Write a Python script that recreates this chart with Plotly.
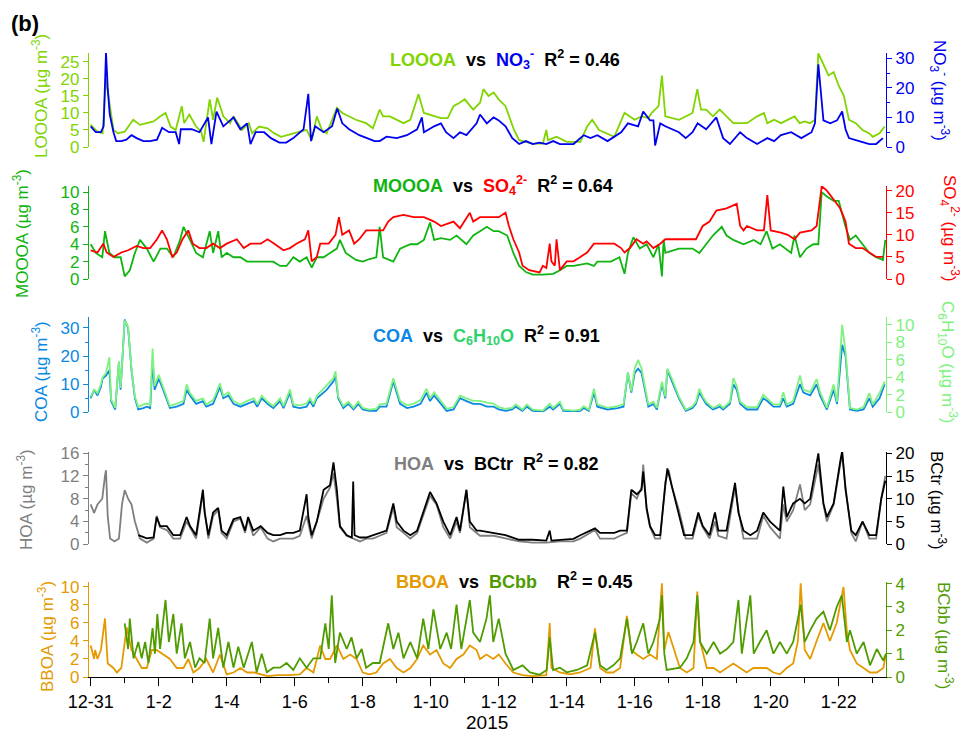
import pandas as pd
import plotly.graph_objects as go

# ---------------- data: (day offset from 2014-12-31 00:00, value) ----------------
START = pd.Timestamp("2014-12-31 00:00")

LOOOA = [(0,6.5),(0.2,4.5),(0.35,4),(0.45,20),(0.55,13),(0.67,5),(0.8,4),(1.0,4.5),(1.25,8),(1.45,6.5),(1.65,7),(1.85,7.5),
         (2.05,9),(2.2,10),(2.35,6),(2.5,5),(2.68,12),(2.75,7),(2.9,9.5),(3.1,6),(3.25,4.5),(3.32,1.5),(3.5,14),(3.6,8),
         (3.72,14.5),(3.9,9),(4.1,7),(4.2,9),(4.45,5),(4.65,7),(4.75,4),(4.95,6),(5.2,5.5),(5.4,4),(5.6,3),(5.76,3.5),
         (5.95,4),(6.15,4.5),(6.35,5),(6.5,2),(6.65,9),(6.8,5),(6.94,4),(7.1,8),(7.24,11.5),(7.4,10),(7.6,9),(7.8,8),
         (8.1,7),(8.3,5.5),(8.5,11),(8.6,9),(8.8,9),(9.0,8),(9.2,7),(9.4,8),(9.64,15.5),(9.8,10),(10.1,9),(10.3,8.5),
         (10.5,8.5),(10.67,12),(10.85,13),(11.0,14),(11.25,11),(11.45,13),(11.55,17),(11.7,15),(11.85,16),(12.0,14),
         (12.2,12),(12.45,5),(12.6,2),(12.8,1.5),(13.0,1),(13.3,1),(13.4,5),(13.45,2),(13.7,3),(14.0,1.5),(14.4,1.5),
         (14.6,6),(14.75,8),(14.95,5),(15.2,4),(15.4,3),(15.57,7),(15.7,10),(16.0,8),(16.2,9),(16.4,8.5),(16.5,10),
         (16.7,12),(16.8,21),(16.9,9),(17.3,8),(17.7,10),(17.84,17),(17.95,11),(18.1,11),(18.3,9),(18.5,11),(18.7,9),
         (18.9,7),(19.1,7),(19.3,7),(19.6,9),(19.8,10),(19.9,7),(20.1,8),(20.3,7),(20.5,8),(20.7,9),(20.85,7),(21.0,7.5),
         (21.15,7),(21.3,8),(21.4,27.5),(21.55,24),(21.7,21),(21.85,22),(22.0,18),(22.15,15),(22.3,8),(22.5,7),(22.7,5),
         (22.9,4),(23.0,3),(23.2,4),(23.35,6)]

NO3 = [(0,7),(0.15,5),(0.3,5),(0.38,7),(0.45,32),(0.5,20),(0.56,11),(0.67,5),(0.75,2),(0.9,2),(1.05,2.5),(1.2,4),
       (1.35,3),(1.55,2),(1.75,2),(1.95,2.5),(2.1,6.5),(2.3,5),(2.5,5),(2.6,1),(2.65,6),(2.97,6),(3.2,5),(3.45,10),
       (3.55,1),(3.7,12),(3.9,7),(4.2,10),(4.4,6),(4.6,8),(4.7,1),(4.85,5),(5.1,5),(5.3,3),(5.55,1.5),(5.75,1.5),
       (5.96,3),(6.26,6),(6.4,18),(6.48,2),(6.6,7),(6.85,5),(7.1,7),(7.25,13),(7.4,8),(7.6,6),(7.9,4),(8.1,3),(8.35,2),
       (8.5,2),(8.7,3.5),(9.0,3),(9.3,4),(9.6,6),(9.74,10),(9.8,5),(10.1,7),(10.3,8),(10.45,5),(10.67,3),(10.86,5),
       (11.05,4),(11.35,8),(11.45,11),(11.65,8),(11.85,10),(12.0,9),(12.2,7),(12.4,3),(12.6,1),(12.8,2),(13.0,1),
       (13.2,1.5),(13.4,1),(13.6,2),(13.8,1),(14.2,1),(14.5,4),(14.7,3),(14.9,4),(15.2,2),(15.6,5),(15.8,8),(16.1,7),
       (16.25,12),(16.45,9),(16.55,9),(16.6,0.5),(16.75,8),(16.9,7),(17.3,5),(17.5,3),(17.7,5),(17.85,8),(18.1,6),
       (18.4,10),(18.6,3),(18.8,1),(19.1,5),(19.3,3),(19.6,1),(19.9,3),(20.1,2),(20.3,4),(20.6,5),(20.9,3),(21.2,5),
       (21.3,8),(21.4,28),(21.55,9),(21.75,8),(21.95,9),(22.1,12),(22.2,6),(22.3,3),(22.6,2),(22.9,1),(23.1,1),(23.3,3)]

MOOOA = [(0,4),(0.15,3),(0.34,2.5),(0.42,5.5),(0.55,3),(0.7,2.5),(0.88,2.5),(1.0,0.3),(1.15,1),(1.3,3),(1.45,4.5),
         (1.65,3.5),(1.85,2),(2.05,3.5),(2.24,3.5),(2.43,2.5),(2.63,4.5),(2.73,6),(2.92,4.5),(3.1,3),(3.3,2.5),(3.5,5.5),
         (3.6,3),(3.75,5.5),(3.85,2.5),(4.0,3),(4.2,2.5),(4.4,2.5),(4.6,2),(4.8,2),(5.0,2),(5.2,2),(5.37,2),(5.57,1.5),
         (5.76,1.5),(5.96,2.5),(6.15,2),(6.35,2.5),(6.5,1.3),(6.65,2.5),(6.85,2.5),(7.04,3),(7.24,3.5),(7.33,4.5),(7.5,3),
         (7.8,2.2),(8.0,2),(8.2,2.3),(8.4,2.5),(8.5,6),(8.6,2.5),(8.9,2),(9.1,3.5),(9.4,4),(9.6,4),(9.8,4.5),(9.98,6.5),
         (10.1,4.5),(10.3,4.7),(10.57,4.5),(10.76,5),(11.05,4),(11.25,5),(11.45,5.5),(11.65,6),(11.85,5.5),(12.0,5.5),
         (12.25,5),(12.43,3),(12.6,1.5),(12.8,0.8),(13.0,0.5),(13.3,0.5),(13.6,0.6),(13.8,1),(14.0,1.5),(14.2,1.5),
         (14.6,1.8),(14.8,1.5),(14.9,2),(15.3,2),(15.55,2.5),(15.7,0.6),(15.8,3),(15.96,4.8),(16.15,3.5),(16.35,4),
         (16.55,2.5),(16.7,4),(16.8,0.3),(16.85,4.5),(16.9,3),(17.3,3.5),(17.7,3.5),(17.9,3),(18.1,4),(18.3,5),(18.56,6),
         (18.7,5),(18.9,4.5),(19.2,4),(19.5,4.5),(19.7,4),(19.88,5.5),(20.05,3.5),(20.27,4),(20.6,3),(20.7,5),(20.86,2.5),
         (21.05,3.5),(21.25,4),(21.4,4),(21.5,10),(21.65,9.5),(21.85,9),(22.0,9),(22.2,6),(22.33,4.5),(22.5,5),(22.7,4),
         (22.9,3),(23.1,2.5),(23.3,2.2),(23.37,4.5)]

SO4 = [(0,6.5),(0.2,6),(0.37,8),(0.47,6),(0.67,5),(0.9,6),(1.1,6.5),(1.35,7.5),(1.55,7),(1.75,7),(1.95,9),(2.1,11),
       (2.24,9),(2.4,5),(2.53,6),(2.7,9),(2.87,11),(3.0,8),(3.2,7),(3.4,7),(3.6,8),(3.8,7),(4.0,8),(4.3,9),(4.5,7),
       (4.7,8),(5.0,8),(5.2,9),(5.4,8),(5.67,6.5),(5.86,7),(6.05,8),(6.3,9),(6.4,11),(6.5,4),(6.65,5),(6.75,8),(7.0,8),
       (7.2,10),(7.3,14),(7.4,10),(7.6,11),(7.75,8),(7.9,9),(8.1,11),(8.4,11),(8.6,11),(8.75,13),(8.9,14),(9.2,14.5),
       (9.5,14),(9.8,14),(10.1,13),(10.3,12),(10.47,12.5),(10.67,13),(10.86,11.5),(11.15,15),(11.25,13),(11.45,14),
       (11.65,14),(11.85,14),(12.0,14),(12.2,15),(12.3,12),(12.43,9),(12.6,6),(12.7,3),(12.9,2),(13.2,1.5),(13.3,3),
       (13.4,2.5),(13.5,8),(13.55,4),(13.65,3),(13.7,9),(13.8,2),(14.0,4),(14.2,4),(14.4,5),(14.6,6),(14.8,8),(14.98,8),
       (15.2,8),(15.4,8),(15.6,7),(15.7,6),(15.86,7),(16.05,9),(16.25,8),(16.35,8.5),(16.55,7),(16.75,8),(16.9,9),
       (17.3,9),(17.5,9),(17.8,9),(18.0,12),(18.2,13),(18.4,15.5),(18.7,16),(19.0,17),(19.1,12),(19.2,11),(19.3,12),
       (19.6,11),(19.8,11),(19.9,19),(20.0,11),(20.3,10.5),(20.5,10),(20.7,9),(20.86,10.5),(21.2,11),(21.35,12),
       (21.5,21),(21.65,20),(21.85,18),(22.04,16),(22.2,13),(22.3,8),(22.5,7),(22.7,7),(22.9,6),(23.1,5),(23.3,5)]

COA = [(0,5),(0.1,8),(0.2,6),(0.3,9),(0.35,12),(0.45,13),(0.55,15),(0.6,4),(0.72,1),(0.83,18),(0.88,8),(1.0,33),
       (1.1,30),(1.2,15),(1.3,5),(1.4,1),(1.55,1.5),(1.65,2),(1.75,1.5),(1.82,18),(1.88,8),(2.0,12),(2.1,9),(2.24,4),
       (2.33,1.5),(2.53,2),(2.73,3),(2.82,8),(2.92,6),(3.1,3),(3.3,4),(3.4,2),(3.6,3),(3.7,6),(3.8,9),(3.9,5),(4.05,6),
       (4.2,3),(4.4,2),(4.6,3),(4.8,4),(4.9,2),(5.03,5),(5.2,3),(5.37,1.5),(5.57,4),(5.67,1.5),(5.86,7),(5.96,2),
       (6.15,1.5),(6.35,2),(6.45,4),(6.55,2),(6.65,5),(6.75,6),(6.94,8),(7.14,11),(7.2,13),(7.28,5),(7.43,1.5),
       (7.58,3),(7.73,1),(7.87,3),(8.0,1),(8.2,0.5),(8.4,0.5),(8.5,2),(8.7,2),(8.9,11),(9.0,7),(9.1,3),(9.3,1.5),
       (9.5,2),(9.7,3),(9.88,7),(9.98,4),(10.1,6),(10.3,3),(10.47,0.5),(10.67,1),(10.86,5),(11.05,4),(11.25,3),
       (11.45,3),(11.65,2),(11.85,2),(12.0,1),(12.2,0.5),(12.4,1),(12.5,2),(12.7,0.5),(12.83,2),(13.0,0.5),(13.3,0.3),
       (13.5,2),(13.6,1),(13.8,3),(13.9,0.5),(14.2,0.3),(14.4,0.5),(14.5,1.5),(14.65,0.5),(14.8,7),(14.9,2),(15.2,1),
       (15.5,1.5),(15.67,2),(15.8,14),(15.9,7),(16.0,14),(16.1,15.5),(16.2,14),(16.3,8),(16.4,2),(16.55,3),(16.65,1),
       (16.8,10),(16.9,5),(16.96,15),(17.1,11),(17.3,5),(17.5,0.5),(17.7,1.5),(17.8,3),(17.9,7),(18.0,5),(18.1,3),
       (18.3,1),(18.5,2),(18.6,1),(18.8,3),(18.9,10),(19.0,8),(19.1,3),(19.3,1),(19.6,1),(19.78,5),(19.9,4),(20.08,2),
       (20.27,2),(20.37,5),(20.47,2),(20.66,3),(20.86,10),(20.96,7),(21.16,6),(21.35,10),(21.45,6),(21.65,1),(21.85,8),
       (21.95,3),(22.1,24),(22.2,20),(22.33,1),(22.53,0.5),(22.73,1),(22.9,5),(23.0,2),(23.2,5),(23.35,10)]

C6H10O = [(0,1.8),(0.1,2.6),(0.2,2.2),(0.3,3.2),(0.35,4),(0.45,4.5),(0.55,6.3),(0.6,1.5),(0.72,0.5),(0.83,5.8),
          (0.88,2.8),(1.0,10.5),(1.1,9.8),(1.2,5),(1.3,1.8),(1.4,0.6),(1.55,0.9),(1.65,1),(1.75,0.8),(1.82,7.3),(1.88,3),
          (2.0,4.3),(2.1,3.2),(2.24,1.6),(2.33,0.7),(2.53,1),(2.73,1.3),(2.82,3.2),(2.92,2.2),(3.1,1.3),(3.3,1.6),(3.4,0.9),
          (3.6,1.4),(3.7,2.3),(3.8,3.3),(3.9,1.9),(4.05,2.3),(4.2,1.3),(4.4,0.9),(4.6,1.3),(4.8,1.6),(4.9,0.9),(5.03,1.9),
          (5.2,1.2),(5.37,0.7),(5.57,1.6),(5.67,0.7),(5.86,2.6),(5.96,0.9),(6.15,0.8),(6.35,1),(6.45,1.6),(6.55,0.9),
          (6.65,1.9),(6.75,2.3),(6.94,3),(7.14,3.9),(7.2,4.7),(7.28,1.8),(7.43,0.7),(7.58,1.2),(7.73,0.5),(7.87,1.2),
          (8.0,0.5),(8.2,0.3),(8.4,0.4),(8.5,0.9),(8.7,1),(8.9,3.9),(9.0,2.6),(9.1,1.3),(9.3,0.8),(9.5,1),(9.7,1.4),
          (9.88,2.7),(9.98,1.6),(10.1,2.3),(10.3,1.3),(10.47,0.4),(10.67,0.6),(10.86,1.9),(11.05,1.6),(11.25,1.3),
          (11.45,1.3),(11.65,1.1),(11.85,1),(12.0,0.6),(12.2,0.4),(12.4,0.5),(12.5,0.9),(12.7,0.3),(12.83,0.9),(13.0,0.3),
          (13.3,0.2),(13.5,1),(13.6,0.5),(13.8,1.2),(13.9,0.3),(14.2,0.2),(14.4,0.3),(14.5,0.7),(14.65,0.3),(14.8,2.7),
          (14.9,0.9),(15.2,0.5),(15.5,0.7),(15.67,0.9),(15.8,4.6),(15.9,2.4),(16.0,5),(16.1,6),(16.2,5),(16.3,2.8),
          (16.4,0.9),(16.55,1.2),(16.65,0.5),(16.8,3.5),(16.9,1.8),(16.96,5),(17.1,3.8),(17.3,1.8),(17.5,0.3),(17.7,0.7),
          (17.8,1.2),(17.9,2.7),(18.0,1.8),(18.1,1.2),(18.3,0.5),(18.5,0.9),(18.6,0.5),(18.8,1.2),(18.9,3.9),(19.0,3),
          (19.1,1.2),(19.3,0.6),(19.6,0.6),(19.78,2),(19.9,1.6),(20.08,0.9),(20.27,0.9),(20.37,2.3),(20.47,0.9),
          (20.66,1.3),(20.86,4.2),(20.96,2.6),(21.16,2.3),(21.35,3.8),(21.45,2.3),(21.65,0.5),(21.85,3.2),(21.95,1.2),
          (22.1,10),(22.2,7),(22.33,0.5),(22.53,0.3),(22.73,0.6),(22.9,2.2),(23.0,0.9),(23.2,2.2),(23.35,3.5)]

HOA = [(0,7),(0.1,5.5),(0.2,7),(0.34,8),(0.42,12),(0.45,13),(0.5,5),(0.57,1),(0.7,0.5),(0.83,1),(0.92,7),(1.0,9.5),
       (1.1,8),(1.2,7),(1.3,4),(1.45,1),(1.65,0.3),(1.85,1),(1.94,5),(2.04,3),(2.24,2.5),(2.43,1),(2.63,1),(2.82,4),
       (2.92,3),(3.1,1),(3.3,9),(3.35,6),(3.46,1),(3.6,5),(3.75,6),(3.85,2),(4.0,1),(4.2,4),(4.4,4.5),(4.54,2),
       (4.63,4.5),(4.78,1.5),(5.0,3),(5.2,1),(5.37,0.5),(5.57,1),(5.76,1),(5.96,1),(6.15,1.5),(6.35,5),(6.5,1),
       (6.65,4),(6.85,8),(7.04,10),(7.14,12.5),(7.24,8),(7.33,3),(7.53,1.5),(7.73,1),(7.92,0.5),(8.1,1),(8.3,1),
       (8.5,1.5),(8.7,2),(8.9,6.5),(9.0,3),(9.2,2),(9.4,1),(9.6,2),(9.78,5),(9.98,8.5),(10.17,7),(10.37,3),(10.57,1),
       (10.76,4),(10.86,2),(11.05,9.5),(11.15,3),(11.35,2),(11.45,1.5),(11.85,1.5),(12.2,1),(12.6,0.5),(13.0,0.3),
       (13.4,0.3),(13.8,0.5),(14.2,0.5),(14.4,1),(14.83,2.5),(14.98,1),(15.4,1),(15.57,1.5),(15.77,2),(15.9,9),
       (16.06,8),(16.2,10),(16.25,14),(16.35,6),(16.45,3),(16.6,1),(16.75,1),(16.9,11),(17.0,13),(17.1,10),(17.3,6),
       (17.5,1),(17.7,1),(17.87,5),(18.0,3),(18.2,1),(18.36,4),(18.46,1.5),(18.7,1),(18.95,10),(19.05,6),(19.2,1),
       (19.4,1),(19.6,1),(19.78,5),(19.98,3),(20.27,1),(20.37,7),(20.47,4),(20.66,6),(20.86,10.5),(21.0,6),(21.16,7),
       (21.4,14),(21.55,7),(21.65,4),(21.85,7),(22.04,14),(22.1,16),(22.2,10),(22.37,2),(22.5,0.5),(22.7,4),(22.9,1),
       (23.1,1),(23.25,8),(23.37,12)]

BCTR = [(1.4,2),(1.65,1.3),(1.85,1.5),(1.94,6),(2.04,4),(2.24,4),(2.43,2),(2.63,2),(2.82,6),(2.92,4),(3.1,2),(3.3,12),
        (3.35,7),(3.46,2),(3.6,7),(3.75,8),(3.85,3),(4.0,2),(4.2,5.5),(4.4,6),(4.54,3),(4.63,6),(4.78,3),(5.0,4),
        (5.2,2.5),(5.37,2),(5.57,2),(5.76,2.5),(5.96,2.5),(6.15,3),(6.35,11),(6.4,6),(6.5,2),(6.65,5),(6.85,12),
        (7.04,13),(7.14,18),(7.24,12),(7.33,4),(7.53,2),(7.68,1.5),(7.72,13.8),(7.76,2),(7.92,1.5),(8.1,1.5),(8.3,2),
        (8.5,2.5),(8.7,3),(8.9,9),(9.0,5),(9.2,3),(9.4,2),(9.6,3),(9.78,7),(9.98,11.5),(10.17,9),(10.37,5),(10.57,2),
        (10.76,6),(10.86,3),(11.05,12),(11.15,5),(11.35,3),(11.45,3),(11.85,2.5),(12.2,2),(12.6,1),(13.0,1),(13.4,0.8),
        (13.5,3),(13.55,0.8),(13.8,1),(14.2,1.2),(14.4,2),(14.83,3.5),(14.98,2.5),(15.4,2.5),(15.57,3),(15.77,3),
        (15.9,12),(16.06,11),(16.2,12),(16.25,16),(16.35,8),(16.45,4),(16.6,2),(16.75,2),(16.9,13),(16.96,16.7),
        (17.45,2),(17.7,2),(17.87,7),(18.0,4),(18.2,2),(18.36,7),(18.46,3),(18.7,3),(18.95,13.5),(19.05,7),(19.2,3),
        (19.4,2),(19.6,3),(19.78,7),(19.98,5),(20.27,3),(20.37,12.7),(20.47,6),(20.66,9),(20.86,10),(21.0,9),
        (21.16,10),(21.4,20),(21.55,9),(21.65,6),(21.85,9),(22.04,18),(22.1,20.5),(22.2,12),(22.37,3),(22.5,2),
        (22.7,5),(22.9,2),(23.1,2),(23.25,10),(23.37,14)]

BBOA = [(0,3.5),(0.1,2),(0.13,3),(0.2,2),(0.3,3),(0.42,6.5),(0.5,1.5),(0.67,1),(0.77,0.5),(0.9,1),(1.06,5.5),(1.2,3),
        (1.35,2),(1.5,1),(1.65,1),(1.8,3),(1.94,3),(2.14,2.5),(2.33,2),(2.53,1),(2.73,1),(2.87,2),(3.02,0.5),(3.2,1),
        (3.4,2),(3.6,0.5),(3.8,2.5),(4.0,0.3),(4.2,0.5),(4.4,1),(4.6,0.5),(4.8,0.5),(5.0,0.3),(5.2,0.1),(5.5,0.2),
        (5.8,0.2),(6.15,0.3),(6.35,1),(6.55,0.5),(6.75,3.5),(6.9,2),(7.04,2),(7.24,3.5),(7.43,2),(7.63,2.5),(7.82,2),
        (8.0,0.5),(8.2,0.3),(8.4,0.5),(8.6,1.5),(8.8,2),(9.0,1),(9.2,0.5),(9.4,1),(9.6,2),(9.78,3.5),(9.98,2.5),
        (10.17,3),(10.37,1.5),(10.57,1),(10.76,2),(10.96,2.5),(11.15,3.5),(11.35,3),(11.45,2),(11.64,2.5),(11.84,2),
        (12.0,2.5),(12.2,1.5),(12.43,0.5),(12.7,0.2),(13.0,0.1),(13.4,0.2),(13.5,6),(13.55,1),(13.8,0.5),(14.1,0.3),
        (14.39,0.5),(14.7,1),(14.83,5.4),(14.98,1),(15.17,0.5),(15.37,0.5),(15.57,1),(15.77,6.8),(15.9,3),(16.06,2.5),
        (16.25,2),(16.45,2.5),(16.65,2),(16.8,10.4),(16.87,3),(16.99,5),(17.33,1),(17.53,0.5),(17.73,1),(17.84,9.5),
        (17.92,4),(18.12,1),(18.32,1),(18.51,0.5),(18.71,1),(18.9,1.5),(19.1,1),(19.29,0.5),(19.49,1),(19.68,1),
        (19.88,1),(20.08,0.5),(20.27,0.3),(20.47,1),(20.66,1.5),(20.8,4),(20.88,10.4),(21.0,3),(21.16,2),(21.35,4),
        (21.55,6),(21.74,4),(21.94,6),(22.14,10),(22.24,5),(22.33,3),(22.53,1.5),(22.73,1),(22.92,0.5),(23.12,0.5),
        (23.31,1),(23.39,2.5)]

BCBB = [(1.0,2.3),(1.1,1.2),(1.15,2.5),(1.26,0.8),(1.4,1.5),(1.5,0.8),(1.6,1.5),(1.7,0.6),(1.82,2.1),(1.89,1),
        (1.96,2.7),(2.04,1.2),(2.2,3.3),(2.3,1.5),(2.43,2.7),(2.53,1),(2.67,2.3),(2.77,0.8),(2.92,1.5),(3.07,0.4),
        (3.2,0.8),(3.35,0.6),(3.5,2.5),(3.6,0.8),(3.75,2.1),(3.9,0.4),(4.05,1.5),(4.2,0.4),(4.34,1.3),(4.5,0.4),
        (4.74,1.5),(4.88,0.2),(5.03,1.0),(5.18,0.2),(5.37,0.4),(5.57,0.4),(5.76,0.6),(5.96,0.3),(6.15,0.8),(6.35,0.4),
        (6.55,0.8),(6.75,0.8),(6.9,2.3),(7.0,1.2),(7.09,3.5),(7.19,0.6),(7.33,1.9),(7.53,1.2),(7.67,1.7),(7.82,0.8),
        (7.97,1.2),(8.1,0.4),(8.3,0.6),(8.5,0.6),(8.75,2.3),(8.9,1.2),(9.05,1.9),(9.2,0.8),(9.4,1.5),(9.6,0.8),
        (9.78,2.5),(9.93,1.2),(10.08,2.9),(10.28,1.2),(10.47,1.9),(10.6,1.2),(10.76,3.1),(10.9,1.2),(11.15,3.3),
        (11.25,1.9),(11.45,1.5),(11.64,2.5),(11.74,3.5),(11.84,1.5),(12.0,2.5),(12.2,1),(12.43,0.3),(12.7,0.5),
        (12.92,0.2),(13.2,0.1),(13.41,0.3),(13.5,1.7),(13.6,0.3),(13.8,0.4),(14.0,0.2),(14.3,0.3),(14.6,0.5),
        (14.78,1.5),(14.83,1.9),(14.98,0.5),(15.17,0.3),(15.37,0.5),(15.57,0.8),(15.77,2.5),(15.92,1),(16.06,1.5),
        (16.25,2.3),(16.4,1),(16.55,1.5),(16.74,2.5),(16.8,3.5),(16.87,1),(16.94,0.3),(17.33,0.4),(17.53,0.8),
        (17.73,1.5),(17.84,3.5),(17.92,1.5),(18.12,1),(18.32,1.5),(18.51,1),(18.71,1.2),(18.9,1.5),(19.05,3.3),
        (19.15,1),(19.4,3.5),(19.5,1),(19.68,1.5),(19.88,2),(20.08,1),(20.27,1.5),(20.47,1),(20.66,1.5),(20.8,2.5),
        (20.88,3.1),(21.0,1.5),(21.16,2),(21.35,2.5),(21.55,2.8),(21.74,2),(21.94,3),(22.09,3.5),(22.24,1.5),(22.33,2),
        (22.53,1),(22.73,1.5),(22.92,0.5),(23.12,1.2),(23.31,0.7),(23.39,1)]

X_TICK_DAYS = [0, 2, 4, 6, 8, 10, 12, 14, 16, 18, 20, 22]
X_TICK_LABELS = ["12-31", "1-2", "1-4", "1-6", "1-8", "1-10", "1-12", "1-14", "1-16", "1-18", "1-20", "1-22"]
R2 = ["0.46", "0.64", "0.91", "0.82", "0.45"]

# ---------------- styling ----------------
# page body has an 8px margin, so the figure is drawn 8px smaller and offset
OFF = 8
W, H = 968 - OFF, 737 - OFF
FONT = "Liberation Sans, Arial, sans-serif"
C_LOOOA, C_NO3 = "#80d400", "#0000f0"
C_MOOOA, C_SO4 = "#10b410", "#ff0000"
C_COA, C_C6 = "#0a88e2", "#7ef27e"
C_C6TXT = "#2dd36a"
C_HOA, C_BCTR = "#7f7f7f", "#000000"
C_BBOA, C_BCBB = "#e49a00", "#4f9c00"
TICK_SIZE = 17
TITLE_SIZE = 17


def dt(d):
    return START + pd.Timedelta(days=d)


def xy(pairs):
    return [dt(p[0]) for p in pairs], [p[1] for p in pairs]


def px(p):
    return (p - OFF) / W


def py(p):
    return 1 - (p - OFF) / H


fig = go.Figure()


def add(pairs, yaxis, color):
    x, y = xy(pairs)
    fig.add_trace(go.Scatter(x=x, y=y, yaxis=yaxis, xaxis="x", mode="lines",
                             line=dict(color=color, width=1.8), showlegend=False, hoverinfo="skip"))


add(NO3, "y2", C_NO3)
add(LOOOA, "y", C_LOOOA)
add(SO4, "y4", C_SO4)
add(MOOOA, "y3", C_MOOOA)
add(C6H10O, "y6", C_C6)
add(COA, "y5", C_COA)
add(BCTR, "y8", C_BCTR)
add(HOA, "y7", C_HOA)
add(BBOA, "y9", C_BBOA)
add(BCBB, "y10", C_BCBB)

# panel pixel extents (top, bottom) in page pixels
PANELS = [(53, 147), (186, 279), (317, 412.3), (452, 544.3), (582, 677)]


def yax(panel, rng, color, dtick, side, overlay=None, minor=None):
    top, bot = PANELS[panel]
    d = dict(domain=[py(bot), py(top)], range=rng, showline=True, linecolor=color, linewidth=1.3,
             ticks="outside", ticklen=5, tickwidth=1.3, tickcolor=color, tick0=0, dtick=dtick,
             tickfont=dict(color=color, size=TICK_SIZE, family=FONT), showgrid=False, zeroline=False,
             anchor="x", side=side, fixedrange=True, automargin=False)
    if overlay:
        d["overlaying"] = overlay
    if minor:
        d["minor"] = dict(dtick=minor, tick0=0, ticks="outside", ticklen=3, tickwidth=1.2, tickcolor=color)
    return d


layout = dict(
    width=W, height=H, margin=dict(l=0, r=0, t=0, b=0, pad=0), autosize=False,
    paper_bgcolor="white", plot_bgcolor="rgba(0,0,0,0)", showlegend=False,
    font=dict(family=FONT, color="black"),
    xaxis=dict(domain=[px(89), px(886)], type="date", anchor="y9", automargin=False,
               range=[dt(-0.05), dt(23.39)], showline=True, linecolor="black", linewidth=1.3,
               ticks="outside", ticklen=8, tickwidth=1.3, tickcolor="black",
               tickvals=[dt(d) for d in X_TICK_DAYS], ticktext=X_TICK_LABELS,
               tickfont=dict(size=18, family=FONT, color="black"),
               minor=dict(tickvals=[dt(d) for d in range(0, 24)], ticks="outside", ticklen=5,
                          tickwidth=1.3, tickcolor="black"),
               showgrid=False, zeroline=False, fixedrange=True),
    yaxis=yax(0, [0, 27.6], C_LOOOA, 5, "left"),
    yaxis2=yax(0, [0, 31.8], C_NO3, 10, "right", "y", 5),
    yaxis3=yax(1, [0, 10.7], C_MOOOA, 2, "left"),
    yaxis4=yax(1, [0, 21.05], C_SO4, 5, "right", "y3"),
    yaxis5=yax(2, [0, 33.9], C_COA, 10, "left", None, 5),
    yaxis6=yax(2, [0, 10.9], C_C6, 2, "right", "y5"),
    yaxis7=yax(3, [0, 16.2], C_HOA, 4, "left", None, 2),
    yaxis8=yax(3, [0, 20.3], C_BCTR, 5, "right", "y7"),
    yaxis9=yax(4, [0, 10.55], C_BBOA, 2, "left"),
    yaxis10=yax(4, [0, 4.07], C_BCBB, 1, "right", "y9"),
)
fig.update_layout(**layout)

UG = "(\u00b5g m<sup>-3</sup>)"
NB = "\u00a0"


def ann(text, x, y, color="black", size=16, angle=0, bold=False, xanchor="center"):
    fig.add_annotation(text=(f"<b>{text}</b>" if bold else text), x=px(x), y=py(y), xref="paper", yref="paper",
                       showarrow=False, textangle=angle, xanchor=xanchor, yanchor="middle",
                       font=dict(color=color, size=size, family=FONT))


def col(t, c):
    return f"<span style='color:{c}'>{t}</span>"


SEP = NB * 2
# panel titles
ann(col("LOOOA", C_LOOOA) + SEP + "vs" + SEP + col("NO<sub>3</sub><sup>-</sup>", C_NO3) + SEP
    + "R<sup>2</sup> = " + R2[0], 505, 60, size=18, bold=True)
ann(col("MOOOA", C_MOOOA) + SEP + "vs" + SEP + col("SO<sub>4</sub><sup>2-</sup>", C_SO4) + SEP
    + "R<sup>2</sup> = " + R2[1], 493, 185, size=18, bold=True)
ann(col("COA", C_COA) + SEP + "vs" + SEP + col("C<sub>6</sub>H<sub>10</sub>O", C_C6TXT) + SEP
    + "R<sup>2</sup> = " + R2[2], 486, 335, size=18, bold=True)
ann(col("HOA", C_HOA) + SEP + "vs" + SEP + col("BCtr", "black") + SEP
    + "R<sup>2</sup> = " + R2[3], 496, 462, size=18, bold=True)
ann(col("BBOA", C_BBOA) + SEP + "vs" + SEP + col("BCbb", C_BCBB) + NB * 4
    + "R<sup>2</sup> = " + R2[4], 515, 580, size=18, bold=True)

# left axis titles
ann("LOOOA " + UG, 40, 96, C_LOOOA, TITLE_SIZE, -90)
ann("MOOOA " + UG, 21, 234, C_MOOOA, TITLE_SIZE, -90)
ann("COA " + UG, 40, 372, C_COA, TITLE_SIZE, -90)
ann("HOA " + UG, 25, 500, C_HOA, TITLE_SIZE, -90)
ann("BBOA " + UG, 46, 637, C_BBOA, TITLE_SIZE, -90)
# right axis titles
ann("NO<sub>3</sub><sup>-</sup> " + UG, 940, 90, C_NO3, TITLE_SIZE, 90)
ann("SO<sub>4</sub><sup>2-</sup> " + UG, 950, 228, C_SO4, TITLE_SIZE, 90)
ann("C<sub>6</sub>H<sub>10</sub>O " + UG, 948, 362, C_C6, TITLE_SIZE, 90)
ann("BCtr " + UG, 938, 500, "black", TITLE_SIZE, 90)
ann("BCbb " + UG, 945, 635, C_BCBB, TITLE_SIZE, 90)

ann("(b)", 9, 24, "black", 22, 0, True, "left")
ann("2015", 487, 722, "black", 19)

fig.write_html("out.html")
